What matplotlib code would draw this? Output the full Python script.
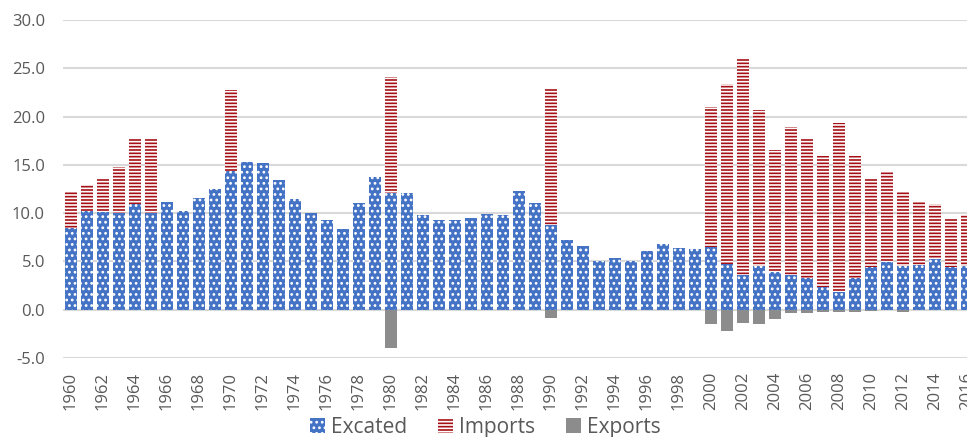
import numpy as np
import matplotlib
matplotlib.use("Agg")
import matplotlib.pyplot as plt

plt.rcParams['font.family'] = ['Open Sans', 'DejaVu Sans']
plt.rcParams['hatch.linewidth'] = 1.2

years = list(range(1960, 2017))

excated = [8.5, 10.2, 10.1, 10.0, 10.9, 10.0, 11.2, 10.2, 11.55, 12.5,
           14.4, 15.3, 15.2, 13.45, 11.45, 10.0, 9.25, 8.4, 11.0, 13.7,
           12.1, 12.1, 9.85, 9.3, 9.25, 9.5, 9.95, 9.85, 12.25, 11.0,
           8.8, 7.25, 6.55, 5.0, 5.4, 5.05, 6.05, 6.85, 6.4, 6.3,
           6.45, 4.75, 3.55, 4.5, 3.9, 3.6, 3.25, 2.4, 1.8, 3.25,
           4.4, 4.9, 4.5, 4.65, 5.2, 4.4, 4.55]

imports = [3.75, 2.7, 3.4, 4.8, 6.8, 7.7, 0, 0, 0, 0,
           8.4, 0, 0, 0, 0, 0, 0, 0, 0, 0,
           12.0, 0, 0, 0, 0, 0, 0, 0, 0, 0,
           14.15, 0, 0, 0, 0, 0, 0, 0, 0, 0,
           14.5, 18.6, 22.4, 16.2, 12.6, 15.3, 14.4, 13.55, 17.5, 12.7,
           9.2, 9.5, 7.75, 6.6, 5.7, 5.1, 5.3]

exports = [0, 0, 0, 0, 0, 0, 0, 0, 0, 0,
           0, 0, 0, 0, 0, 0, 0, 0, 0, 0,
           -3.97, 0, 0, 0, 0, 0, 0, 0, 0, 0,
           -0.86, 0, 0, 0, 0, 0, 0, 0, 0, 0,
           -1.45, -2.24, -1.38, -1.45, -0.93, -0.35, -0.35, -0.25, -0.2, -0.25,
           -0.1, -0.05, -0.2, -0.05, 0, 0, 0]

W, H = 967, 437
fig = plt.figure(figsize=(W / 100, H / 100), dpi=100)
# axes runs a bit past the right edge, like the cropped original
ax = fig.add_axes([63 / W, 1 - 358 / H, (975 - 63) / W, (358 - 20) / H])

x = np.arange(len(years))
bw = 0.75
b1 = ax.bar(x, excated, bw, color='#4472C4', edgecolor='white', linewidth=0,
            hatch='...', label='Excated', zorder=2)
b2 = ax.bar(x, imports, bw, bottom=excated, color='#A50F15', edgecolor='white',
            linewidth=0, hatch='-----', label='Imports', zorder=2)
b3 = ax.bar(x, exports, bw, color='#8C8C8C', linewidth=0, label='Exports', zorder=2)

ax.set_xlim(-0.5, len(years) - 0.5)
ax.set_ylim(-5, 30)
ax.set_yticks(np.arange(-5, 31, 5))
ax.set_yticklabels(['%.1f' % v for v in np.arange(-5, 31, 5)])
ax.grid(axis='y', color='#D9D9D9', linewidth=1.5, zorder=0)
ax.set_axisbelow(True)
for s in ax.spines.values():
    s.set_visible(False)

ax.set_xticks(x[::2])
ax.set_xticklabels([str(y) for y in years[::2]], rotation=90)
ax.tick_params(axis='both', length=0, labelsize=12, colors='#595959')
ax.tick_params(axis='x', pad=10)
ax.tick_params(axis='y', pad=13)

fig.legend(handles=[b1, b2, b3], loc='center', bbox_to_anchor=(0.502, 0.022),
           ncol=3, frameon=False, fontsize=15, handlelength=0.7,
           handleheight=0.7, handletextpad=0.3, columnspacing=1.5,
           labelcolor='#595959')

fig.savefig('out.png', dpi=100)
